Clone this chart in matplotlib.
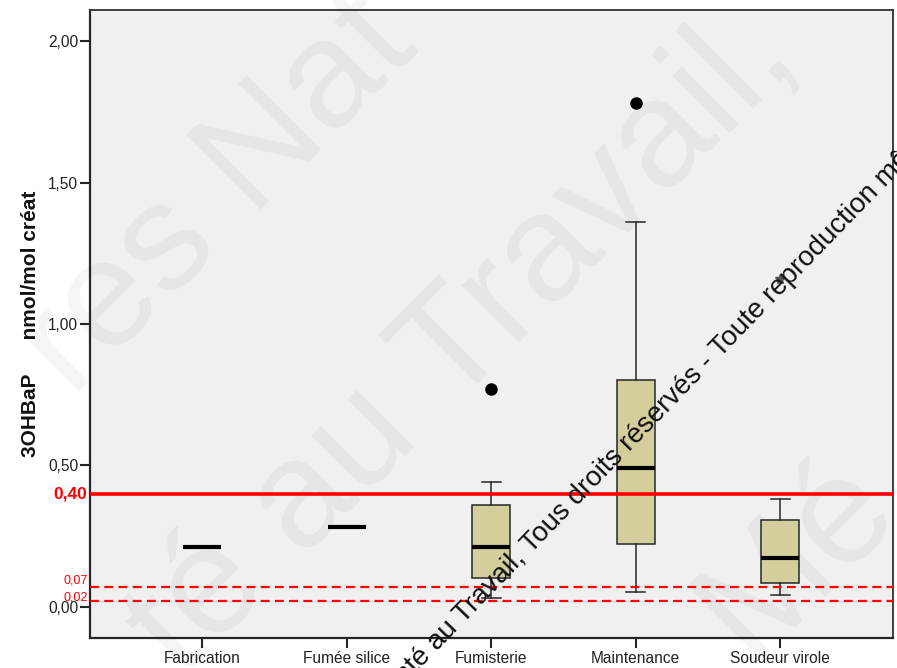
import numpy as np
import matplotlib
matplotlib.use('Agg')
import matplotlib.pyplot as plt
from matplotlib.transforms import blended_transform_factory

plt.rcParams['font.family'] = ['Liberation Sans', 'DejaVu Sans']

# ---------------- data ----------------
categories = ['Fabrication', 'Fumée silice', 'Fumisterie', 'Maintenance', 'Soudeur virole']
q1 = [0.212, 0.283, 0.102, 0.223, 0.085]
medians = [0.212, 0.283, 0.212, 0.491, 0.173]
q3 = [0.212, 0.283, 0.360, 0.802, 0.307]
whisker_low = [0.212, 0.283, 0.032, 0.053, 0.042]
whisker_high = [0.212, 0.283, 0.442, 1.360, 0.382]
outliers = [[], [], [0.770], [1.781], []]
extremes = [[], [], [], [], [1.16]]

ref_value = 0.40
ref_value_label = '0,40'
ref_low_values = [0.07, 0.02]
ref_low_labels = ['0,07', '0,02']

yticks = [0.0, 0.5, 1.0, 1.5, 2.0]
ytick_labels = ['0,00', '0,50', '1,00', '1,50', '2,00']
ylabel = '3OHBaP      nmol/mol créat'

watermark_lines = ['res Nat', 'té au Travail,', 'Mé']
copyright_text = 'Santé au Travail, Tous droits réservés - Toute reproduction même partielle interdite'

# ---------------- figure ----------------
W, H, DPI = 897, 668, 100
fig = plt.figure(figsize=(W / DPI, H / DPI), dpi=DPI)
fig.patch.set_facecolor('white')
ax = fig.add_axes([90 / W, 1 - 638 / H, (893 - 90) / W, (638 - 10) / H])
ax.set_facecolor('#f0f0f0')

positions = np.arange(len(categories))
stats = []
for i, c in enumerate(categories):
    stats.append(dict(med=medians[i], q1=q1[i], q3=q3[i],
                      whislo=whisker_low[i], whishi=whisker_high[i],
                      fliers=outliers[i], label=c))

edge = '#262626'
ax.bxp(stats, positions=positions, widths=0.263, patch_artist=True,
       boxprops=dict(facecolor='#d3ce9b', edgecolor=edge, linewidth=1.1),
       medianprops=dict(color='black', linewidth=3.0, solid_capstyle='butt'),
       whiskerprops=dict(color=edge, linewidth=1.1),
       capprops=dict(color=edge, linewidth=1.1),
       flierprops=dict(marker='o', markerfacecolor='black', markeredgecolor='black',
                       markersize=8, linestyle='none'),
       manage_ticks=False, zorder=2)

for i, vals in enumerate(extremes):
    if vals:
        ax.plot([positions[i]] * len(vals), vals, linestyle='none', marker='*',
                color='#555555', markersize=7, zorder=3)

# reference lines
ax.axhline(ref_value, color='#ff0000', linewidth=2.6, zorder=4)
for v in ref_low_values:
    ax.axhline(v, color='#ff0000', linewidth=1.6, dashes=(4, 2.4), zorder=4)

trans = blended_transform_factory(ax.transAxes, ax.transData)
ax.text(-0.003, ref_value, ref_value_label, transform=trans, ha='right', va='center',
        color='#ff0000', fontsize=12.5, fontweight='bold', clip_on=False)
label_offsets = [0.022, 0.014]
for v, lab, off in zip(ref_low_values, ref_low_labels, label_offsets):
    ax.text(-0.003, v + off, lab, transform=trans, ha='right', va='center',
            color='#ff0000', fontsize=9, clip_on=False)

# axes
ax.set_xlim(-0.775, 4.78)
ax.set_ylim(-0.11, 2.11)
ax.set_yticks(yticks, ytick_labels)
ax.set_xticks(positions, categories)
ax.tick_params(axis='both', direction='out', length=7, width=1.5, color='#262626',
               labelsize=11.2, labelcolor='#222222')
ax.tick_params(axis='y', pad=1.5)
ax.tick_params(axis='x', pad=2.5)
for s in ['left', 'bottom']:
    ax.spines[s].set_linewidth(1.6)
    ax.spines[s].set_color('#262626')
for s in ['top', 'right']:
    ax.spines[s].set_linewidth(1.3)
    ax.spines[s].set_color('#303030')

ax.set_ylabel(ylabel, fontsize=15, fontweight='bold', color='#111111')
ax.yaxis.set_label_coords((30 - 90) / 803, 0.5)
ax.yaxis.label.set_va('center')

# ---------------- watermark & copyright ----------------
renderer = fig.canvas.get_renderer()


def text_width(s, **kw):
    t = fig.text(0, 0, s, **kw)
    w = t.get_window_extent(renderer).width
    t.remove()
    return w


def place_rotated(target, s, idx, px, py, angle, **kw):
    letter = s[idx]
    off = text_width(s[:idx] + letter, **kw) - text_width(letter, **kw) if idx > 0 else 0.0
    th = np.deg2rad(angle)
    x0 = px - off * np.cos(th)
    y0 = (H - py) - off * np.sin(th)
    return target.text(x0 / W, y0 / H, s, transform=fig.transFigure, rotation=angle,
                       rotation_mode='anchor', ha='left', va='baseline', **kw)


wm_kw = dict(fontsize=110, color='black', alpha=0.042)
wm_anchor = [(4, 252, 218), (3, 302, 560), (0, 750, 660)]
for s, (idx, px, py) in zip(watermark_lines, wm_anchor):
    t = place_rotated(ax, s, idx, px, py, 45, **wm_kw)
    t.set_clip_on(False)
    t.set_zorder(0.5)

cp_kw = dict(fontsize=20, color='#111111')
t = place_rotated(fig, copyright_text, copyright_text.index('Travail'), 464, 624, 46, **cp_kw)
t.set_zorder(10)

fig.savefig('out.png', dpi=DPI, facecolor='white')
